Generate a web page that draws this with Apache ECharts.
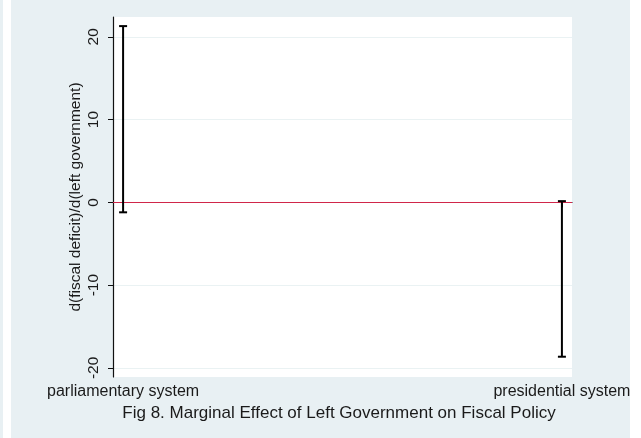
<!DOCTYPE html>
<html>
<head>
<meta charset="utf-8">
<script src="https://cdn.jsdelivr.net/npm/echarts@6/dist/echarts.min.js"></script>
<style>
  html, body { margin: 0; padding: 0; background: #fff; }
  .strip { position: absolute; left: 0; top: 0; width: 3px; height: 438px; background: #e8f0f3; }
  #chart { position: absolute; left: 11px; top: 0; width: 619px; height: 438px; }
</style>
</head>
<body>
<div class="strip"></div>
<div id="chart"></div>
<script>
// data
const categories = ['parliamentary system', 'presidential system']
const xPos = [1, 2]
const upper = [21.3, 0.15]
const lower = [-1.2, -18.65]
const yTicks = [-20, -10, 0, 10, 20]

const bars = xPos.map((x, i) => [x, lower[i], upper[i]])

const myChart = echarts.init(document.getElementById('chart'))
myChart.setOption({
  backgroundColor: '#e8f0f3',
  animation: false,
  textStyle: { fontFamily: 'Liberation Sans, Arial, sans-serif' },
  title: {
    text: 'Fig 8. Marginal Effect of Left Government on Fiscal Policy',
    left: 323,
    textAlign: 'center',
    top: 400,
    textStyle: { color: '#1a1a1a', fontSize: 17, fontWeight: 'normal' }
  },
  grid: {
    left: 102, right: 58, top: 17, bottom: 61,
    outerBoundsMode: 'none',
    show: true, backgroundColor: '#fff', borderWidth: 0
  },
  xAxis: {
    type: 'value',
    min: 0.977,
    max: 2.023,
    splitLine: { show: false },
    axisLine: { show: true, lineStyle: { color: '#111', width: 1.2 } },
    axisTick: { show: true, customValues: xPos, length: 5, lineStyle: { color: '#111' } },
    axisLabel: {
      customValues: xPos,
      color: '#1a1a1a',
      fontSize: 16,
      margin: 7,
      formatter: v => categories[xPos.indexOf(v)] || ''
    }
  },
  yAxis: {
    type: 'value',
    min: -21.1,
    max: 22.4,
    name: 'd(fiscal deficit)/d(left government)',
    nameLocation: 'middle',
    nameGap: 29,
    nameMoveOverlap: false,
    nameTextStyle: { color: '#1a1a1a', fontSize: 15.5 },
    axisLine: { show: true, lineStyle: { color: '#111', width: 1.2 } },
    axisTick: { show: true, customValues: yTicks, length: 5, lineStyle: { color: '#111' } },
    axisLabel: { customValues: yTicks, rotate: 90, color: '#1a1a1a', fontSize: 15.5, margin: 11 },
    splitLine: { show: true, customValues: yTicks, lineStyle: { color: '#eaf2f3', width: 1 } }
  },
  series: [
    {
      type: 'line',
      data: [],
      markLine: {
        silent: true,
        symbol: 'none',
        label: { show: false },
        lineStyle: { color: '#d0264a', width: 1, type: 'solid' },
        data: [{ yAxis: 0 }]
      }
    },
    {
      type: 'custom',
      data: bars,
      z: 5,
      renderItem (params, api) {
        const top = api.coord([api.value(0), api.value(2)])
        const bot = api.coord([api.value(0), api.value(1)])
        const cap = 4
        const style = { stroke: '#000', lineWidth: 2 }
        return {
          type: 'group',
          children: [
            { type: 'line', shape: { x1: top[0], y1: top[1], x2: bot[0], y2: bot[1] }, style },
            { type: 'line', shape: { x1: top[0] - cap, y1: top[1], x2: top[0] + cap, y2: top[1] }, style },
            { type: 'line', shape: { x1: bot[0] - cap, y1: bot[1], x2: bot[0] + cap, y2: bot[1] }, style }
          ]
        }
      }
    }
  ]
})
</script>
</body>
</html>
